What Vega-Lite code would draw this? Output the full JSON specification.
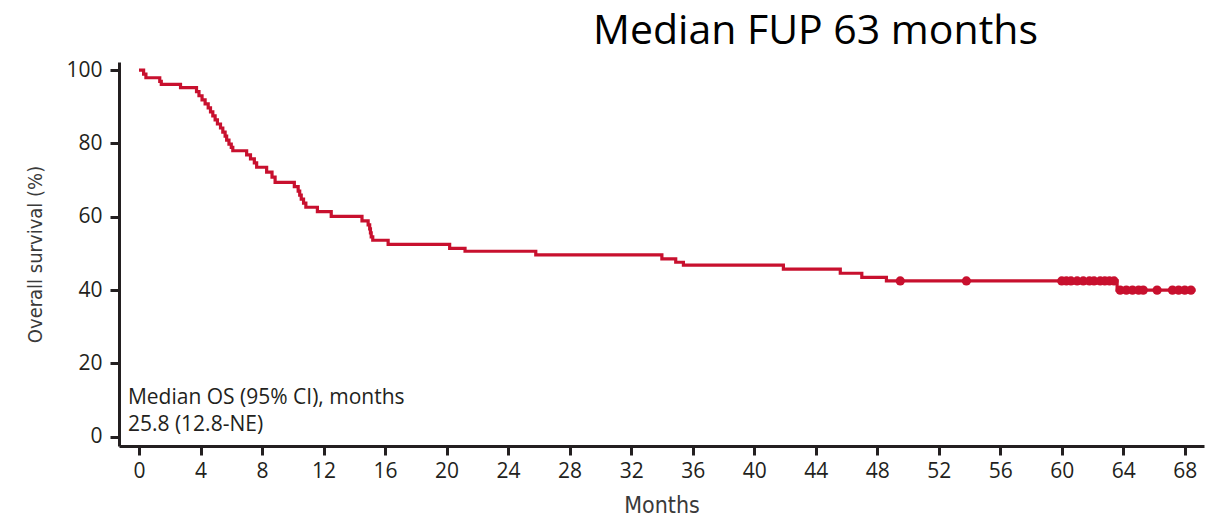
{
  "$schema": "https://vega.github.io/schema/vega-lite/v6.json",
  "width": 1085,
  "height": 384,
  "autosize": {"type": "none"},
  "padding": {"left": 119, "top": 62, "right": 24, "bottom": 75},
  "background": "white",
  "title": {
    "text": "Median FUP 63 months",
    "anchor": "middle",
    "dx": 154,
    "offset": 6,
    "font": "Open Sans",
    "fontSize": 41,
    "fontWeight": "normal",
    "color": "#000000"
  },
  "config": {
    "view": {"stroke": null},
    "axis": {
      "grid": false,
      "domainColor": "#231f20",
      "domainWidth": 3,
      "tickColor": "#231f20",
      "tickWidth": 3,
      "tickSize": 9,
      "labelFont": "Open Sans",
      "labelFontSize": 21,
      "labelColor": "#231f20",
      "titleFont": "Liberation Sans Narrow, DejaVu Sans Condensed, sans-serif",
      "titleFontWeight": "normal",
      "titleFontSize": 22,
      "titleColor": "#3a3a3a"
    }
  },
  "datasets": {
    "km": [
      {"month": 0, "survival": 100},
      {"month": 0.3, "survival": 98.9},
      {"month": 0.45, "survival": 97.9},
      {"month": 1.35, "survival": 96.9},
      {"month": 1.45, "survival": 96.1},
      {"month": 2.7, "survival": 95.2},
      {"month": 3.74, "survival": 94.1},
      {"month": 3.9, "survival": 93.0},
      {"month": 4.1, "survival": 91.9},
      {"month": 4.3, "survival": 90.8},
      {"month": 4.5, "survival": 89.7},
      {"month": 4.65, "survival": 88.6},
      {"month": 4.8, "survival": 87.5},
      {"month": 4.95, "survival": 86.4},
      {"month": 5.1, "survival": 85.3},
      {"month": 5.3, "survival": 84.2},
      {"month": 5.45, "survival": 83.1},
      {"month": 5.6, "survival": 82.0},
      {"month": 5.7, "survival": 80.9},
      {"month": 5.85, "survival": 79.8},
      {"month": 6.0, "survival": 78.9},
      {"month": 6.1, "survival": 78.0},
      {"month": 7.0, "survival": 76.9},
      {"month": 7.25, "survival": 75.8},
      {"month": 7.5, "survival": 74.7},
      {"month": 7.65, "survival": 73.5},
      {"month": 8.3, "survival": 72.2},
      {"month": 8.65, "survival": 70.8},
      {"month": 8.85, "survival": 69.4},
      {"month": 10.1, "survival": 68.2},
      {"month": 10.35, "survival": 67.0},
      {"month": 10.45, "survival": 65.9},
      {"month": 10.55, "survival": 64.8},
      {"month": 10.7, "survival": 63.7},
      {"month": 10.85, "survival": 62.6},
      {"month": 11.6, "survival": 61.4},
      {"month": 12.5, "survival": 60.1},
      {"month": 14.5, "survival": 58.9},
      {"month": 14.9, "survival": 57.8},
      {"month": 15.0, "survival": 56.7},
      {"month": 15.05, "survival": 55.6},
      {"month": 15.1, "survival": 54.5},
      {"month": 15.2, "survival": 53.6},
      {"month": 16.2, "survival": 52.5},
      {"month": 20.2, "survival": 51.4},
      {"month": 21.2, "survival": 50.6},
      {"month": 25.8, "survival": 49.6},
      {"month": 34.0, "survival": 48.5},
      {"month": 34.9, "survival": 47.6},
      {"month": 35.4, "survival": 46.8},
      {"month": 41.9, "survival": 45.7},
      {"month": 45.6, "survival": 44.6},
      {"month": 47.0, "survival": 43.5},
      {"month": 48.6, "survival": 42.5},
      {"month": 63.6, "survival": 40.0},
      {"month": 68.7, "survival": 40.0}
    ],
    "censored": [
      {"month": 49.5, "survival": 42.5},
      {"month": 53.8, "survival": 42.5},
      {"month": 60.0, "survival": 42.5},
      {"month": 60.3, "survival": 42.5},
      {"month": 60.6, "survival": 42.5},
      {"month": 61.0, "survival": 42.5},
      {"month": 61.4, "survival": 42.5},
      {"month": 61.8, "survival": 42.5},
      {"month": 62.1, "survival": 42.5},
      {"month": 62.5, "survival": 42.5},
      {"month": 62.8, "survival": 42.5},
      {"month": 63.1, "survival": 42.5},
      {"month": 63.4, "survival": 42.5},
      {"month": 63.8, "survival": 40.0},
      {"month": 64.2, "survival": 40.0},
      {"month": 64.6, "survival": 40.0},
      {"month": 65.0, "survival": 40.0},
      {"month": 65.3, "survival": 40.0},
      {"month": 66.2, "survival": 40.0},
      {"month": 67.2, "survival": 40.0},
      {"month": 67.6, "survival": 40.0},
      {"month": 68.0, "survival": 40.0},
      {"month": 68.4, "survival": 40.0}
    ],
    "notes": [
      {"label": "Median OS (95% CI), months", "month": -0.72, "survival": 10.6},
      {"label": "25.8 (12.8-NE)", "month": -0.72, "survival": 3.3}
    ]
  },
  "encoding": {
    "x": {
      "field": "month",
      "type": "quantitative",
      "scale": {"domain": [-1.3, 69.25], "nice": false, "zero": false},
      "axis": {
        "title": "Months",
        "titleFontSize": 23,
        "values": [0, 4, 8, 12, 16, 20, 24, 28, 32, 36, 40, 44, 48, 52, 56, 60, 64, 68],
        "labelPadding": 5,
        "titlePadding": 13
      }
    },
    "y": {
      "field": "survival",
      "type": "quantitative",
      "scale": {"domain": [-2.5, 102.2], "nice": false, "zero": false},
      "axis": {
        "title": "Overall survival (%)",
        "titleFontSize": 20,
        "values": [0, 20, 40, 60, 80, 100],
        "labelPadding": 8,
        "titlePadding": 20
      }
    }
  },
  "layer": [
    {
      "data": {"name": "km"},
      "mark": {"type": "line", "interpolate": "step-after", "color": "#c8102e", "strokeWidth": 3.2}
    },
    {
      "data": {"name": "censored"},
      "mark": {"type": "point", "filled": true, "color": "#c8102e", "opacity": 1, "size": 85}
    },
    {
      "data": {"name": "notes"},
      "mark": {"type": "text", "align": "left", "baseline": "middle", "font": "Open Sans", "fontSize": 21, "color": "#231f20"},
      "encoding": {"text": {"field": "label"}}
    }
  ]
}
